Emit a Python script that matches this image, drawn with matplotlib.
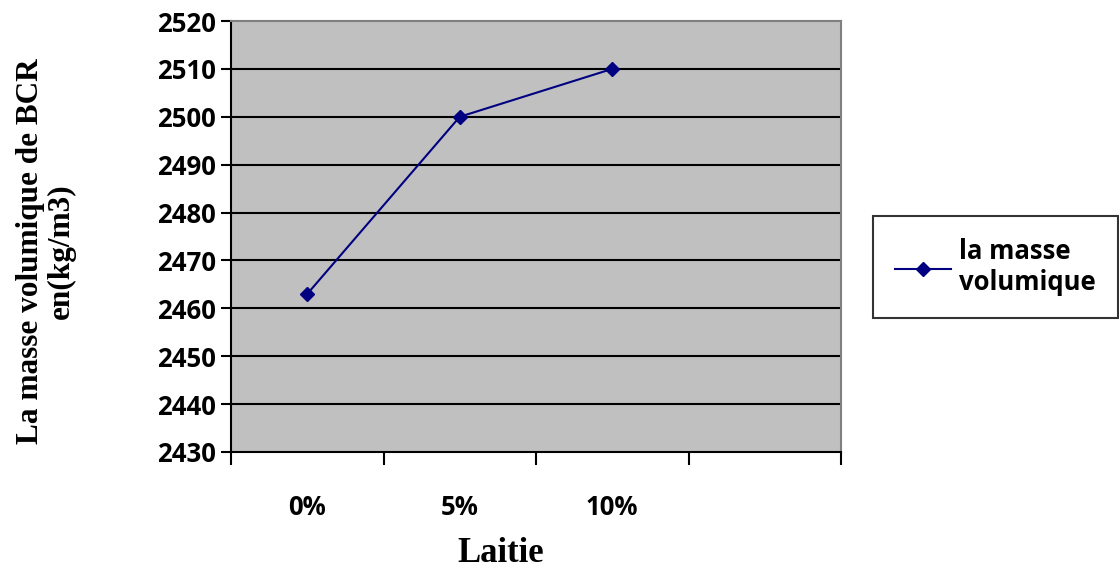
import matplotlib
matplotlib.use("Agg")
import matplotlib.pyplot as plt

categories = ["0%", "5%", "10%"]
densite = [2463, 2500, 2510]
y_ticks = [2430, 2440, 2450, 2460, 2470, 2480, 2490, 2500, 2510, 2520]

fig = plt.figure(figsize=(11.19, 5.72), dpi=100)
ax = fig.add_axes([231 / 1119, 1 - 452 / 572, 610 / 1119, 431 / 572])
ax.set_facecolor("#C0C0C0")

xs = [i + 0.5 for i in range(len(categories))]
ax.plot(xs, densite, color="#000080", lw=1.5, marker="D", markersize=7.5,
        label="la masse\nvolumique", zorder=3)

ax.set_xlim(0, 4)
ax.set_ylim(y_ticks[0], y_ticks[-1])
ax.set_yticks(y_ticks)
for y in y_ticks[1:-1]:
    ax.axhline(y, color="black", lw=1.5, zorder=1)

# category slots: ticks on boundaries, labels at slot centres
ax.set_xticks(range(5))
ax.set_xticklabels([])
ax.set_xticks(xs, minor=True)
ax.set_xticklabels(categories, minor=True)
ax.tick_params(axis="x", which="major", direction="out", length=9, width=1.5)
ax.tick_params(axis="x", which="minor", length=0, pad=30)
ax.tick_params(axis="y", direction="out", length=7, width=1.5, pad=4)

for lab in ax.get_xticklabels(minor=True) + ax.get_yticklabels():
    lab.set_fontfamily("Open Sans")
    lab.set_fontweight("bold")
    lab.set_fontsize(18.5)

for side in ("left", "bottom"):
    ax.spines[side].set_color("black")
    ax.spines[side].set_linewidth(1.5)
for side in ("top", "right"):
    ax.spines[side].set_color("#808080")
    ax.spines[side].set_linewidth(1.5)

fig.text(501 / 1119, 1 - 553 / 572, "Laitie", family="Liberation Serif",
         weight="bold", size=25, ha="center", va="center")
fig.text(46 / 1119, 1 - 251 / 572, "La masse volumique de BCR\nen(kg/m3)",
         family="Liberation Serif", weight="bold", size=22.5, rotation=90,
         ha="center", va="center", linespacing=1.1)

leg = fig.legend(loc="center left", bbox_to_anchor=(873 / 1119, 1 - 267 / 572),
                 frameon=True, fancybox=False, edgecolor="black",
                 prop={"family": "Open Sans", "weight": "bold", "size": 18.5},
                 handlelength=2.2, borderpad=0.85, handletextpad=0.3,
                 borderaxespad=0)
leg.get_frame().set_linewidth(1.5)

fig.savefig("out.png", dpi=100)
